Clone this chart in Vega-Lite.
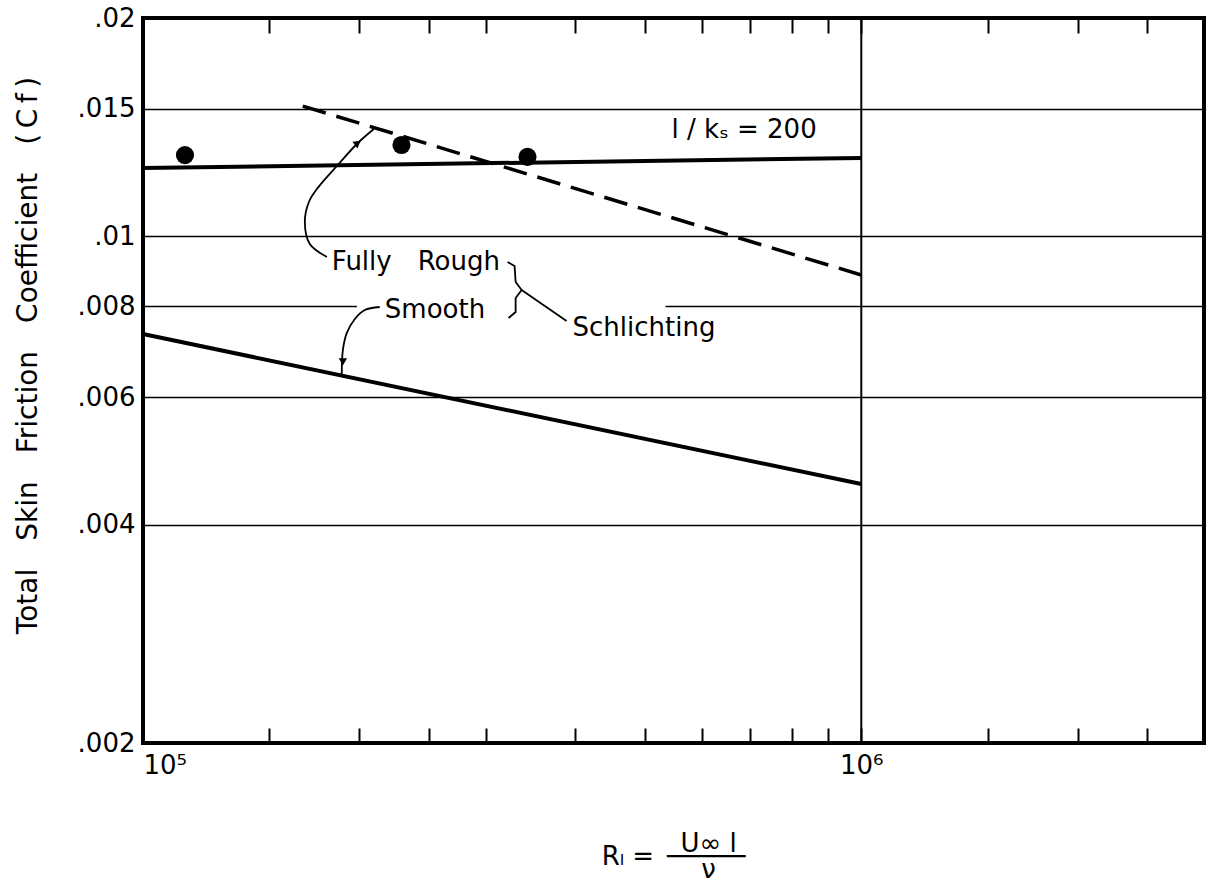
{
  "$schema": "https://vega.github.io/schema/vega-lite/v6.json",
  "width": 1061,
  "height": 725,
  "autosize": "none",
  "padding": {"left": 143, "top": 18, "right": 7, "bottom": 140},
  "background": "white",
  "config": {
    "font": "DejaVu Sans",
    "view": {"stroke": "black", "strokeWidth": 4},
    "text": {"font": "DejaVu Sans", "fontSize": 26, "color": "black"}
  },
  "datasets": {
    "curves": [
      {"series": "l/ks=200", "Re": 100000, "Cf": 0.012422},
      {"series": "l/ks=200", "Re": 1000000, "Cf": 0.012822},
      {"series": "smooth", "Re": 100000, "Cf": 0.00733},
      {"series": "smooth", "Re": 1000000, "Cf": 0.004552},
      {"series": "fully rough", "Re": 166900, "Cf": 0.01512},
      {"series": "fully rough", "Re": 1000000, "Cf": 0.008842}
    ],
    "points": [
      {"Re": 114400, "Cf": 0.01294},
      {"Re": 229000, "Cf": 0.01336},
      {"Re": 343000, "Cf": 0.01287}
    ],
    "gridsegs": [
      {"Re": 100000, "Re2": 198500, "Cf": 0.008},
      {"Re": 533900, "Re2": 3000000, "Cf": 0.008}
    ],
    "vline": [{"Re": 1000000}],
    "arrows": [
      {"path": "rough", "i": 1, "Re": 180300, "Cf": 0.009363},
      {"path": "rough", "i": 2, "Re": 170700, "Cf": 0.009757},
      {"path": "rough", "i": 3, "Re": 168000, "Cf": 0.010464},
      {"path": "rough", "i": 4, "Re": 170200, "Cf": 0.01115},
      {"path": "rough", "i": 5, "Re": 175100, "Cf": 0.01166},
      {"path": "rough", "i": 6, "Re": 186700, "Cf": 0.01254},
      {"path": "rough", "i": 7, "Re": 199100, "Cf": 0.013446},
      {"path": "rough", "i": 8, "Re": 209600, "Cf": 0.01406},
      {"path": "smooth", "i": 1, "Re": 213600, "Cf": 0.007988},
      {"path": "smooth", "i": 2, "Re": 203600, "Cf": 0.007912},
      {"path": "smooth", "i": 3, "Re": 197200, "Cf": 0.00769},
      {"path": "smooth", "i": 4, "Re": 192200, "Cf": 0.007356},
      {"path": "smooth", "i": 5, "Re": 189800, "Cf": 0.006968},
      {"path": "smooth", "i": 6, "Re": 189100, "Cf": 0.006456}
    ],
    "brace": [
      {"path": "brace", "i": 1, "Re": 321800, "Cf": 0.009214},
      {"path": "brace", "i": 2, "Re": 329100, "Cf": 0.0091},
      {"path": "brace", "i": 3, "Re": 330200, "Cf": 0.008648},
      {"path": "brace", "i": 4, "Re": 336600, "Cf": 0.00843},
      {"path": "brace", "i": 5, "Re": 330200, "Cf": 0.00822},
      {"path": "brace", "i": 6, "Re": 330200, "Cf": 0.007862},
      {"path": "brace", "i": 7, "Re": 322800, "Cf": 0.007714},
      {"path": "leader", "i": 1, "Re": 336600, "Cf": 0.00843},
      {"path": "leader", "i": 2, "Re": 388800, "Cf": 0.007642}
    ],
    "heads": [
      {"head": "rough", "Re": 199100, "Cf": 0.013446},
      {"head": "smooth", "Re": 189800, "Cf": 0.006708}
    ],
    "labels": [
      {"label": "l / k\u209b = 200", "Re": 544200, "Cf": 0.0140},
      {"label": "Fully\u2003Rough", "Re": 183200, "Cf": 0.00921},
      {"label": "Smooth", "Re": 217100, "Cf": 0.00791},
      {"label": "Schlichting", "Re": 396300, "Cf": 0.00747}
    ]
  },
  "layer": [
    {
      "data": {"name": "curves"},
      "transform": [{"filter": "datum.series != 'fully rough'"}],
      "mark": {"type": "line", "color": "black", "strokeWidth": 4},
      "encoding": {
        "x": {
          "field": "Re", "type": "quantitative",
          "scale": {"type": "log", "domain": [100000, 3000000], "nice": false},
          "axis": {
            "orient": "bottom",
            "values": [100000, 150000, 200000, 250000, 300000, 400000, 500000, 600000, 700000, 800000, 900000, 1000000, 1500000, 2000000, 2500000, 3000000],
            "labelExpr": "datum.value == 100000 ? '10⁵' : (datum.value == 1000000 ? '10⁶' : '')",
            "grid": false,
            "domain": false,
            "tickSize": -15,
            "tickWidth": 2,
            "tickColor": "black",
            "labelPadding": 24,
            "labelFont": "DejaVu Sans",
            "labelFontSize": 26,
            "labelColor": "black",
            "labelOverlap": false,
            "labelFlush": true,
            "title": ["\u200b\u2003\u2003\u2002\u2009U\u221e l", "R\u2097 =\u2002\u2500\u2500\u2500\u2500\u2500", "\u200b\u2003\u2003\u2002\u2009\u03bd"],
            "titleFont": "DejaVu Sans",
            "titleFontSize": 26,
            "titleFontWeight": "normal",
            "titleColor": "black",
            "titleLineHeight": 13,
            "titleAlign": "center",
            "titleAnchor": null,
            "titleBaseline": "alphabetic",
            "titleX": 530,
            "titleY": 108
          }
        },
        "y": {
          "field": "Cf", "type": "quantitative",
          "scale": {"type": "log", "domain": [0.002, 0.02], "nice": false},
          "axis": {
            "values": [0.002, 0.004, 0.006, 0.008, 0.01, 0.015, 0.02],
            "labelExpr": "substring(format(datum.value, '.3~f'), 1)",
            "grid": true,
            "gridColor": "black",
            "gridWidth": 1.5,
            "gridOpacity": {"condition": {"test": "datum.value == 0.008", "value": 0}, "value": 1},
            "ticks": false,
            "domain": false,
            "labelPadding": 8,
            "labelFont": "DejaVu Sans",
            "labelFontSize": 26,
            "labelColor": "black",
            "labelOverlap": false,
            "title": "Total\u2003Skin\u2003Friction\u2003Coefficient\u2003(\u2009C\u2009f\u2009)",
            "titleFont": "DejaVu Sans",
            "titleFontSize": 28,
            "titleFontWeight": "normal",
            "titleColor": "black",
            "titleAngle": -90,
            "titleAlign": "center",
            "titleAnchor": null,
            "titleBaseline": "alphabetic",
            "titleX": -107,
            "titleY": 337
          }
        },
        "detail": {"field": "series"}
      }
    },
    {
      "data": {"name": "curves"},
      "transform": [{"filter": "datum.series == 'fully rough'"}],
      "mark": {"type": "line", "color": "black", "strokeWidth": 3.5, "strokeDash": [24, 11]},
      "encoding": {
        "x": {"field": "Re", "type": "quantitative", "axis": null},
        "y": {"field": "Cf", "type": "quantitative"}
      }
    },
    {
      "data": {"name": "points"},
      "mark": {"type": "point", "filled": true, "color": "black", "opacity": 1, "size": 330},
      "encoding": {
        "x": {"field": "Re", "type": "quantitative", "axis": null},
        "y": {"field": "Cf", "type": "quantitative"}
      }
    },
    {
      "data": {"name": "gridsegs"},
      "mark": {"type": "rule", "color": "black", "strokeWidth": 1.5},
      "encoding": {
        "x": {"field": "Re", "type": "quantitative", "axis": null},
        "x2": {"field": "Re2"},
        "y": {"field": "Cf", "type": "quantitative"}
      }
    },
    {
      "data": {"name": "vline"},
      "mark": {"type": "rule", "color": "black", "strokeWidth": 2},
      "encoding": {
        "x": {
          "field": "Re", "type": "quantitative",
          "axis": {
            "orient": "top",
            "values": [100000, 150000, 200000, 250000, 300000, 400000, 500000, 600000, 700000, 800000, 900000, 1000000, 1500000, 2000000, 2500000, 3000000],
            "labels": false,
            "grid": false,
            "domain": false,
            "tickSize": -15,
            "tickWidth": 2,
            "tickColor": "black",
            "title": null
          }
        }
      }
    },
    {
      "data": {"name": "arrows"},
      "mark": {"type": "line", "color": "black", "strokeWidth": 1.8, "interpolate": "catmull-rom"},
      "encoding": {
        "x": {"field": "Re", "type": "quantitative", "axis": null},
        "y": {"field": "Cf", "type": "quantitative"},
        "detail": {"field": "path"},
        "order": {"field": "i", "type": "quantitative"}
      }
    },
    {
      "data": {"name": "brace"},
      "mark": {"type": "line", "color": "black", "strokeWidth": 1.8, "interpolate": "linear"},
      "encoding": {
        "x": {"field": "Re", "type": "quantitative", "axis": null},
        "y": {"field": "Cf", "type": "quantitative"},
        "detail": {"field": "path"},
        "order": {"field": "i", "type": "quantitative"}
      }
    },
    {
      "data": {"name": "heads"},
      "transform": [{"filter": "datum.head == 'rough'"}],
      "mark": {"type": "point", "shape": "triangle-up", "filled": true, "color": "black", "opacity": 1, "size": 70, "angle": 53},
      "encoding": {
        "x": {"field": "Re", "type": "quantitative", "axis": null},
        "y": {"field": "Cf", "type": "quantitative"}
      }
    },
    {
      "data": {"name": "heads"},
      "transform": [{"filter": "datum.head == 'smooth'"}],
      "mark": {"type": "point", "shape": "triangle-up", "filled": true, "color": "black", "opacity": 1, "size": 70, "angle": 180},
      "encoding": {
        "x": {"field": "Re", "type": "quantitative", "axis": null},
        "y": {"field": "Cf", "type": "quantitative"}
      }
    },
    {
      "data": {"name": "labels"},
      "mark": {"type": "text", "align": "left", "baseline": "middle", "font": "DejaVu Sans", "fontSize": 26, "color": "black"},
      "encoding": {
        "x": {"field": "Re", "type": "quantitative", "axis": null},
        "y": {"field": "Cf", "type": "quantitative"},
        "text": {"field": "label"}
      }
    }
  ],
  "resolve": {"axis": {"x": "independent"}}
}
